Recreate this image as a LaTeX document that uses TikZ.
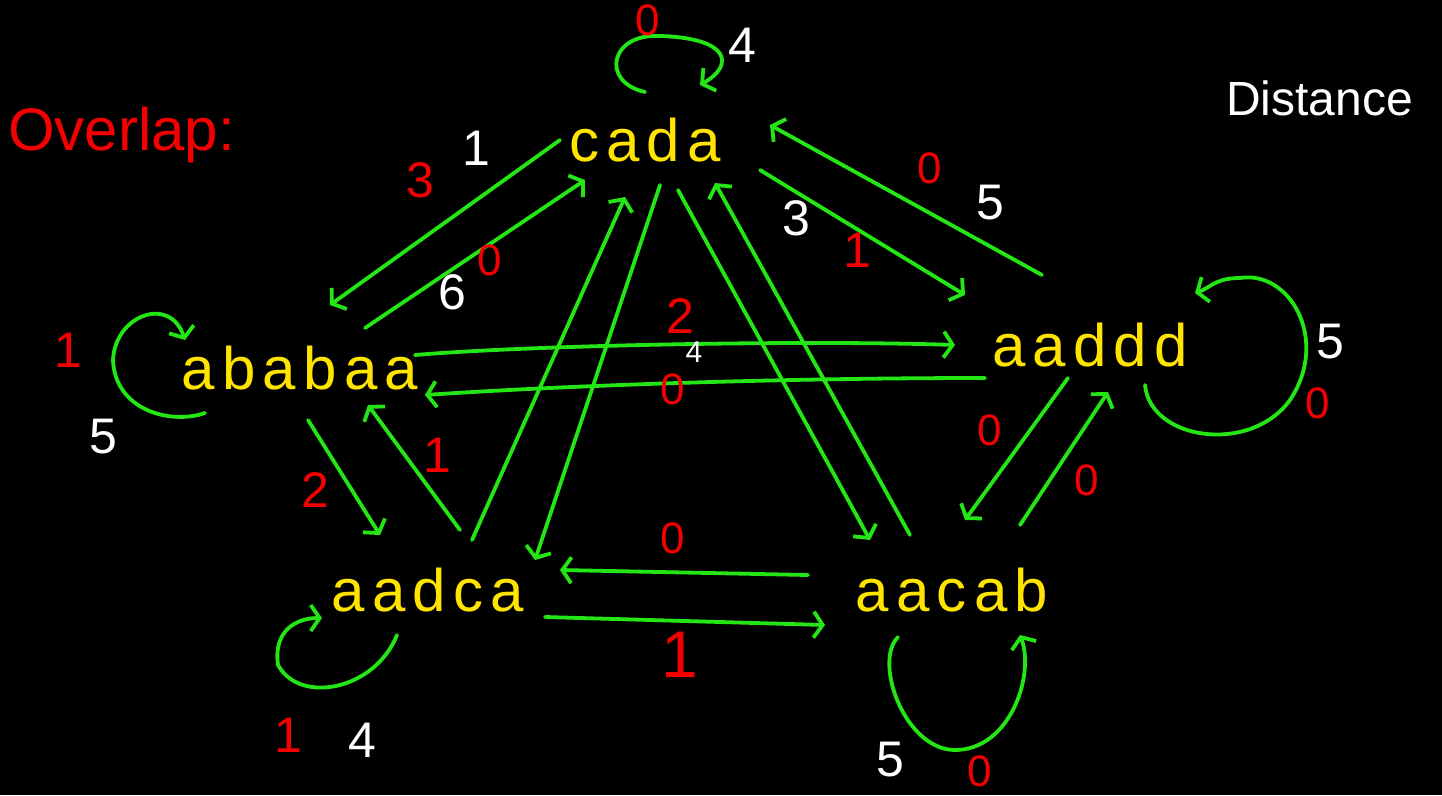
\documentclass[tikz,border=0pt]{standalone}
\usepackage{fontspec}
\setmainfont{Liberation Sans}
\usetikzlibrary{arrows.meta,calc}
\definecolor{grn}{RGB}{35,230,20}
\definecolor{ylw}{RGB}{255,228,0}
\definecolor{rd}{RGB}{245,0,0}
\begin{document}
\begin{tikzpicture}[x=1pt,y=-1pt,
  every node/.style={inner sep=0pt},
  word/.style={text=ylw,font=\fontsize{60}{60}\selectfont\addfontfeature{LetterSpace=12}},
  rl/.style={text=rd,font=\fontsize{50}{50}\selectfont},
  rz/.style={text=rd,font=\fontsize{44}{44}\selectfont},
  wl/.style={text=white,font=\fontsize{50}{50}\selectfont},
  edge/.style={draw=grn,line width=3.8pt,line cap=round,line join=round,
    -{Straight Barb[length=9pt,width=26pt,line width=3.8pt]}}]
\path[fill=black] (0,0) rectangle (1442,795);
% titles
\node[text=rd,font=\fontsize{60}{60}\selectfont,anchor=west] (ov) at (8,135) {Overlap:};
\node[text=white,font=\fontsize{48}{48}\selectfont,anchor=west] (dist) at (1226,98) {Distance};
% words
\node[word] (C) at (645,140) {cada};
\node[word] (B) at (300,368) {ababaa};
\node[word] (D) at (1090,345) {aaddd};
\node[word] (E) at (428,590) {aadca};
\node[word] (F) at (952,590) {aacab};
% edges
\draw[edge] ($(C)+(-85,0)$) -- ($(B)+(30,-63)$);
\draw[edge] ($(B)+(65,-40)$) -- ($(C)+(-60,40)$);
\draw[edge] ($(E)+(44,-50)$) -- ($(C)+(-20,57)$);
\draw[edge] ($(C)+(15,45)$) -- ($(E)+(107,-30)$);
\draw[edge] ($(C)+(33,50)$) -- ($(F)+(-82,-50)$);
\draw[edge] ($(F)+(-42,-55)$) -- ($(C)+(70,43)$);
\draw[edge] ($(C)+(115,30)$) -- ($(D)+(-125,-50)$);
\draw[edge] ($(D)+(-48,-70)$) -- ($(C)+(125,-15)$);
\draw[edge] ($(B)+(115,-13)$) .. controls +(120,-10) and +(-150,-5) .. ($(D)+(-135,0)$);
\draw[edge] ($(D)+(-105,33)$) .. controls +(-200,0) and +(150,-10) .. ($(B)+(125,27)$);
\draw[edge] ($(B)+(8,52)$) -- ($(E)+(-48,-55)$);
\draw[edge] ($(E)+(32,-60)$) -- ($(B)+(68,37)$);
\draw[edge] ($(F)+(-144,-15)$) -- ($(E)+(132,-20)$);
\draw[edge] ($(E)+(117,27)$) -- ($(F)+(-127,35)$);
\draw[edge] ($(D)+(-22,33)$) -- ($(F)+(13,-70)$);
\draw[edge] ($(F)+(68,-65)$) -- ($(D)+(18,47)$);
% self loops
\draw[edge] ($(C)+(0,-48)$) .. controls +(-45,-10) and +(-50,-3) .. ($(C)+(15,-104)$)
  .. controls +(70,2) and +(35,-20) .. ($(C)+(55,-55)$);
\draw[edge] ($(B)+(-95,45)$) .. controls +(-35,12) and +(2,50) .. ($(B)+(-187,-8)$)
  .. controls +(2,-45) and +(-15,-45) .. ($(B)+(-115,-28)$);
\draw[edge] ($(D)+(55,40)$) .. controls +(5,55) and +(-40,55) .. ($(D)+(200,55)$)
  .. controls +(40,-60) and +(50,-8) .. ($(D)+(150,-67)$)
  .. controls +(-25,0) and +(15,-5) .. ($(D)+(105,-52)$);
\draw[edge] ($(E)+(-31,45)$) .. controls +(-22,55) and +(22,40) .. ($(E)+(-150,75)$)
  .. controls +(-5,-35) and +(-25,0) .. ($(E)+(-106,28)$);
\draw[edge] ($(F)+(-54,47)$) .. controls +(-25,25) and +(-50,0) .. ($(F)+(3,160)$)
  .. controls +(55,0) and +(15,40) .. ($(F)+(68,45)$);
% labels
\node[rl] (l1) at (420,180) {3};
\node[wl] (l2) at (476,148) {1};
\node[rz] (l3) at (490,260) {0};
\node[wl] (l4) at (452,292) {6};
\node[wl] (l5) at (796,218) {3};
\node[rl] (l6) at (857,250) {1};
\node[rz] (l7) at (930,168) {0};
\node[wl] (l8) at (990,203) {5};
\node[rl] (l9) at (680,316) {2};
\node[text=white,font=\fontsize{30}{30}\selectfont] (l10) at (694,352) {4};
\node[rz] (l11) at (673,389) {0};
\node[rl] (l12) at (315,490) {2};
\node[rl] (l13) at (437,455) {1};
\node[rz] (l14) at (673,538) {0};
\node[text=rd,font=\fontsize{66}{66}\selectfont] (l15) at (680,655) {1};
\node[rz] (l16) at (990,430) {0};
\node[rz] (l17) at (1087,480) {0};
\node[rz] (l18) at (648,20) {0};
\node[wl] (l19) at (742,45) {4};
\node[rl] (l20) at (68,350) {1};
\node[wl] (l21) at (103,437) {5};
\node[wl] (l22) at (1330,342) {5};
\node[rz] (l23) at (1318,403) {0};
\node[rl] (l24) at (288,735) {1};
\node[wl] (l25) at (362,740) {4};
\node[wl] (l26) at (890,760) {5};
\node[rz] (l27) at (980,771) {0};
\end{tikzpicture}
\end{document}
